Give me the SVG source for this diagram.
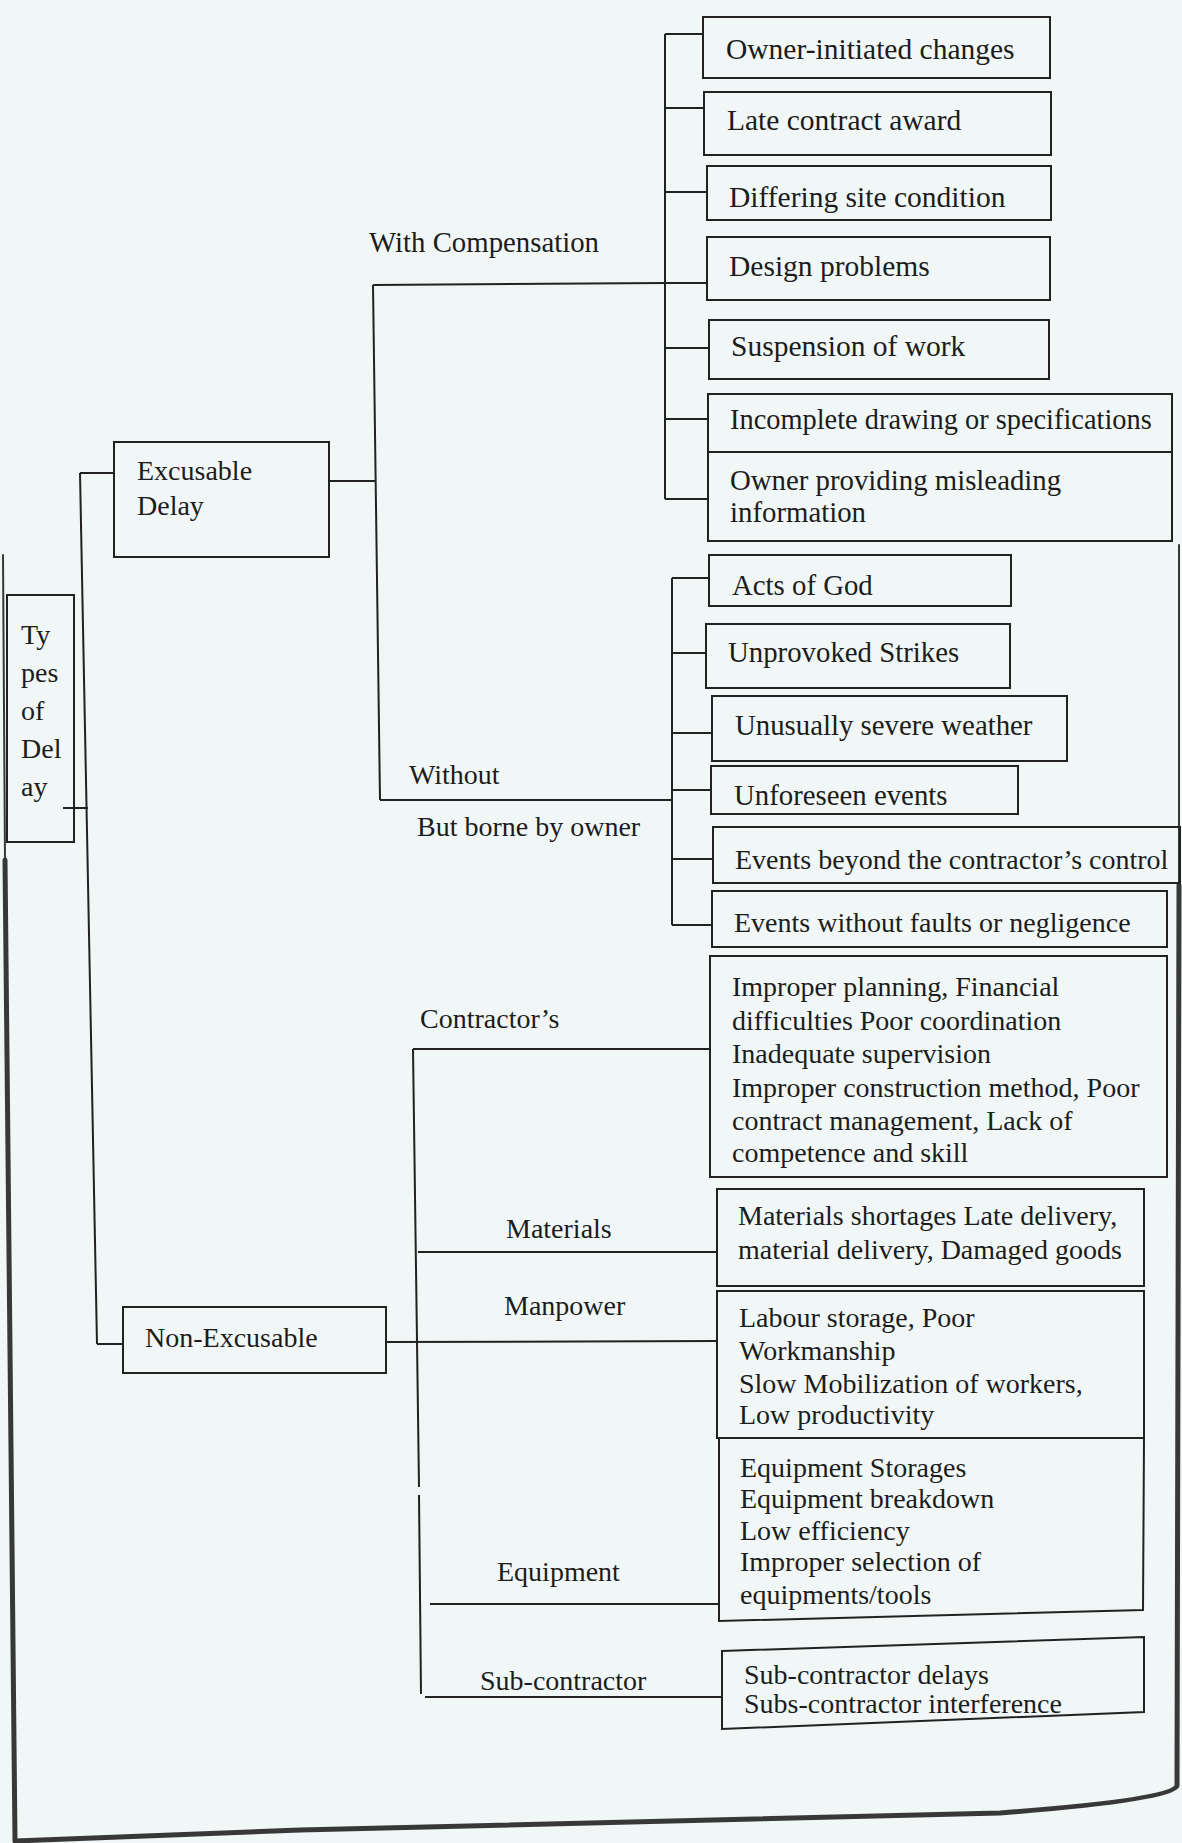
<svg xmlns="http://www.w3.org/2000/svg" width="1182" height="1843" viewBox="0 0 1182 1843">
<style>
.bx{fill:none;stroke:#222;stroke-width:2}
.cn{fill:none;stroke:#222;stroke-width:2}
.pg{fill:none;stroke:#383838;stroke-linecap:round;stroke-linejoin:round}
text{font-family:"Liberation Serif","Times New Roman",serif;font-size:28px;fill:#1c1c1c}
.lg{font-size:29.5px}
.md{font-size:28.8px}
</style>
<rect x="0" y="0" width="1182" height="1843" fill="#f0f7f6"/>
<g id="page-edge">
<path class="pg" stroke-width="2" d="M3,555 L5,860"/>
<path class="pg" stroke-width="5" d="M5,860 L15,1841 L300,1830 L1000,1813 Q1170,1800 1177,1786 L1179,885"/>
<path class="pg" stroke-width="2" d="M1179,885 L1179,545"/>
</g>
<g id="connectors">
<path class="cn" d="M63,808 H88"/>
<path class="cn" d="M80,473 L97,1344"/>
<path class="cn" d="M80,473 H114"/>
<path class="cn" d="M97,1344 H123"/>
<path class="cn" d="M329,481 H375"/>
<path class="cn" d="M373,285 L380,800"/>
<path class="cn" d="M373,285 L665,283"/>
<path class="cn" d="M665,34 V499"/>
<path class="cn" d="M665,34 H703"/>
<path class="cn" d="M665,108 H704"/>
<path class="cn" d="M665,192 H707"/>
<path class="cn" d="M665,283 H707"/>
<path class="cn" d="M665,348 H709"/>
<path class="cn" d="M665,419 H708"/>
<path class="cn" d="M665,499 H708"/>
<path class="cn" d="M380,800 H672"/>
<path class="cn" d="M672,578 V925"/>
<path class="cn" d="M672,578 H709"/>
<path class="cn" d="M672,653 H706"/>
<path class="cn" d="M672,733 H712"/>
<path class="cn" d="M672,790 H711"/>
<path class="cn" d="M672,859 H713"/>
<path class="cn" d="M672,925 H712"/>
<path class="cn" d="M413,1049 L419,1487"/>
<path class="cn" d="M419,1495 L421,1694"/>
<path class="cn" d="M413,1049 H710"/>
<path class="cn" d="M418,1252 H717"/>
<path class="cn" d="M386,1342 L717,1341"/>
<path class="cn" d="M430,1604 H719"/>
<path class="cn" d="M425,1697 H722"/>
</g>
<g id="types-of-delay">
<rect class="bx" x="7" y="595" width="67" height="247"/>
<text x="21" y="644">Ty</text>
<text x="21" y="682">pes</text>
<text x="21" y="720">of</text>
<text x="21" y="758">Del</text>
<text x="21" y="796">ay</text>
</g>
<g id="excusable-delay">
<rect class="bx" x="114" y="442" width="215" height="115"/>
<text x="137" y="480">Excusable</text>
<text x="137" y="515">Delay</text>
</g>
<g id="non-excusable">
<rect class="bx" x="123" y="1307" width="263" height="66"/>
<text x="145" y="1347">Non-Excusable</text>
</g>
<g id="with-compensation">
<text class="md" x="369" y="252">With Compensation</text>
</g>
<g id="without">
<text x="409" y="784">Without</text>
<text x="417" y="836">But borne by owner</text>
</g>
<g id="contractors-label"><text x="420" y="1028">Contractor’s</text></g>
<g id="materials-label"><text x="506" y="1238">Materials</text></g>
<g id="manpower-label"><text x="504" y="1315">Manpower</text></g>
<g id="equipment-label"><text x="497" y="1581">Equipment</text></g>
<g id="subcontractor-label"><text x="480" y="1690">Sub-contractor</text></g>
<g id="owner-initiated">
<rect class="bx" x="703" y="17" width="347" height="61"/>
<text class="lg" x="726" y="59">Owner-initiated changes</text>
</g>
<g id="late-award">
<rect class="bx" x="704" y="92" width="347" height="63"/>
<text class="lg" x="727" y="130">Late contract award</text>
</g>
<g id="differing-site">
<rect class="bx" x="707" y="166" width="344" height="54"/>
<text class="lg" x="729" y="207">Differing site condition</text>
</g>
<g id="design-problems">
<rect class="bx" x="707" y="237" width="343" height="63"/>
<text class="lg" x="729" y="276">Design problems</text>
</g>
<g id="suspension">
<rect class="bx" x="709" y="320" width="340" height="59"/>
<text class="lg" x="731" y="356">Suspension of work</text>
</g>
<g id="incomplete-drawing">
<rect class="bx" x="708" y="394" width="464" height="58"/>
<text x="730" y="429" style="font-size:28.4px">Incomplete drawing or specifications</text>
</g>
<g id="misleading-info">
<rect class="bx" x="708" y="452" width="464" height="89"/>
<text class="md" x="730" y="490">Owner providing misleading</text>
<text class="md" x="730" y="522">information</text>
</g>
<g id="acts-of-god">
<rect class="bx" x="709" y="555" width="302" height="51"/>
<text class="md" x="732" y="595">Acts of God</text>
</g>
<g id="strikes">
<rect class="bx" x="706" y="624" width="304" height="64"/>
<text class="md" x="728" y="662">Unprovoked Strikes</text>
</g>
<g id="weather">
<rect class="bx" x="712" y="696" width="355" height="65"/>
<text class="md" x="735" y="735">Unusually severe weather</text>
</g>
<g id="unforeseen">
<rect class="bx" x="711" y="766" width="307" height="48"/>
<text class="md" x="734" y="805">Unforeseen events</text>
</g>
<g id="beyond-control">
<rect class="bx" x="713" y="827" width="467" height="56"/>
<text x="735" y="869">Events beyond the contractor’s control</text>
</g>
<g id="without-faults">
<rect class="bx" x="712" y="891" width="455" height="56"/>
<text x="734" y="932">Events without faults or negligence</text>
</g>
<g id="contractor-causes">
<rect class="bx" x="710" y="956" width="457" height="221"/>
<text x="732" y="996">Improper planning, Financial</text>
<text x="732" y="1030">difficulties Poor coordination</text>
<text x="732" y="1063">Inadequate supervision</text>
<text x="732" y="1097">Improper construction method, Poor</text>
<text x="732" y="1130">contract management, Lack of</text>
<text x="732" y="1162">competence and skill</text>
</g>
<g id="materials-causes">
<rect class="bx" x="717" y="1189" width="427" height="97"/>
<text x="738" y="1225">Materials shortages Late delivery,</text>
<text x="738" y="1259">material delivery, Damaged goods</text>
</g>
<g id="manpower-causes">
<rect class="bx" x="717" y="1291" width="427" height="147"/>
<text x="739" y="1327">Labour storage, Poor</text>
<text x="739" y="1360">Workmanship</text>
<text x="739" y="1393">Slow Mobilization of workers,</text>
<text x="739" y="1424">Low productivity</text>
</g>
<g id="equipment-causes">
<polygon class="bx" points="719,1438 1144,1438 1143,1610 719,1621"/>
<text x="740" y="1477">Equipment Storages</text>
<text x="740" y="1508">Equipment breakdown</text>
<text x="740" y="1540">Low efficiency</text>
<text x="740" y="1571">Improper selection of</text>
<text x="740" y="1604">equipments/tools</text>
</g>
<g id="subcontractor-causes">
<polygon class="bx" points="722,1651 1144,1637 1144,1712 722,1729"/>
<text x="744" y="1684">Sub-contractor delays</text>
<text x="744" y="1713">Subs-contractor interference</text>
</g>
</svg>
